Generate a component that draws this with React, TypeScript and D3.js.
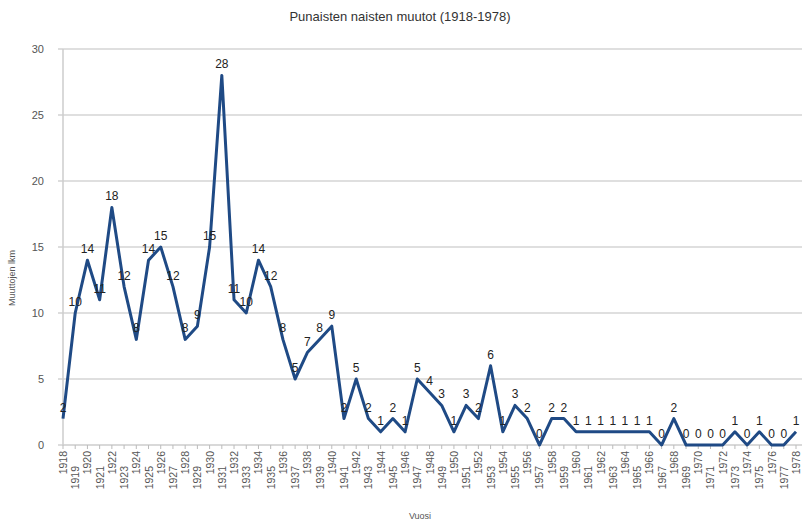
import React from "react";
import * as d3 from "d3";

// years and moves
const years: number[] = d3.range(1918, 1979);
const moves: number[] = [
  2, 10, 14, 11, 18, 12, 8, 14, 15, 12, 8, 9, 15, 28, 11, 10, 14, 12, 8, 5,
  7, 8, 9, 2, 5, 2, 1, 2, 1, 5, 4, 3, 1, 3, 2, 6, 1, 3, 2, 0,
  2, 2, 1, 1, 1, 1, 1, 1, 1, 0, 2, 0, 0, 0, 0, 1, 0, 1, 0, 0, 1,
];
const yTicks: number[] = [0, 5, 10, 15, 20, 25, 30];

const title = "Punaisten naisten muutot (1918-1978)";
const xTitle = "Vuosi";
const yTitle = "Muuttojen lkm";

const W = 802;
const H = 524;
const left = 63;
const right = 796;
const top = 49;
const bottom = 445;

export default function App() {
  const x = d3.scalePoint<number>().domain(years).range([left, right]);
  const y = d3.scaleLinear().domain([0, 30]).range([bottom, top]);
  const data = years.map((yr, i) => ({ yr, v: moves[i] }));
  const line = d3
    .line<{ yr: number; v: number }>()
    .x(d => x(d.yr) as number)
    .y(d => y(d.v));

  const font = "'Liberation Sans', Arial, sans-serif";

  return (
    <svg
      width={W}
      height={H}
      style={{ position: "absolute", left: 0, top: 0, background: "#fff" }}
      fontFamily={font}
    >
      <text x={400} y={21} textAnchor="middle" fontSize={13} fill="#333">
        {title}
      </text>

      {/* gridlines and y ticks */}
      {yTicks.map(t => (
        <g key={t}>
          {t > 0 && (
            <line x1={left} x2={802} y1={y(t)} y2={y(t)} stroke="#d4d4d4" strokeWidth={1.5} />
          )}
          <line x1={left - 5} x2={left} y1={y(t)} y2={y(t)} stroke="#bbb" />
          <text x={left - 19} y={y(t) + 4} textAnchor="end" fontSize={11} fill="#555">
            {t}
          </text>
        </g>
      ))}

      <line x1={left} x2={left} y1={top} y2={bottom} stroke="#ccc" strokeWidth={1.5} />
      <line x1={left} x2={802} y1={bottom} y2={bottom} stroke="#ccc" strokeWidth={1.5} />

      {/* x ticks, staggered */}
      {years.map((yr, i) => {
        const px = x(yr) as number;
        const ty = i % 2 === 0 ? 451 : 466;
        return (
          <g key={yr}>
            <line x1={px} x2={px} y1={bottom} y2={bottom + 4} stroke="#bbb" />
            <text
              transform={`translate(${px + 4},${ty}) rotate(-90)`}
              textAnchor="end"
              fontSize={10.5}
              fill="#555"
            >
              {yr}
            </text>
          </g>
        );
      })}

      <path d={line(data) || ""} fill="none" stroke="#1f4a85" strokeWidth={3} strokeLinejoin="round" />

      {data.map(d => (
        <text
          key={d.yr}
          x={x(d.yr) as number}
          y={y(d.v) - 7}
          textAnchor="middle"
          fontSize={12}
          fill="#222"
        >
          {d.v}
        </text>
      ))}

      <text x={420} y={519} textAnchor="middle" fontSize={9} fill="#555">
        {xTitle}
      </text>
      <text
        transform={`translate(15,${278}) rotate(-90)`}
        textAnchor="middle"
        fontSize={9}
        fill="#555"
      >
        {yTitle}
      </text>
    </svg>
  );
}
